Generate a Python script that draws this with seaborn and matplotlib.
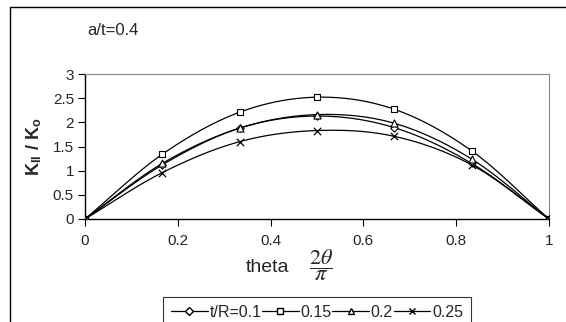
import numpy as np
import pandas as pd
import seaborn as sns
import matplotlib.pyplot as plt
from matplotlib.patches import Rectangle

sns.set_style('white')
plt.rcParams['font.family'] = ['Liberation Sans', 'DejaVu Sans']
plt.rcParams['mathtext.fontset'] = 'stix'

# datos
theta = [0, 1/6, 1/3, 1/2, 2/3, 5/6, 1]
k_01 = [0, 1.12, 1.88, 2.13, 1.89, 1.15, 0]
k_015 = [0, 1.34, 2.21, 2.52, 2.27, 1.41, 0]
k_02 = [0, 1.15, 1.88, 2.16, 1.98, 1.24, 0]
k_025 = [0, 0.96, 1.60, 1.83, 1.71, 1.12, 0]
series = ['t/R=0.1', '0.15', '0.2', '0.25']
marcadores = ['D', 's', '^', 'x']
tamanos = [14, 24, 26, 28]

df = pd.DataFrame({'theta': theta * 4,
                   'k': k_01 + k_015 + k_02 + k_025,
                   'serie': np.repeat(series, len(theta))})


def suavizar(x, y, n=20):
    # curva tipo Excel (Catmull-Rom) solo para el trazo
    x = np.asarray(x, float); y = np.asarray(y, float)
    px = np.concatenate([[2*x[0]-x[1]], x, [2*x[-1]-x[-2]]])
    py = np.concatenate([[2*y[0]-y[1]], y, [2*y[-1]-y[-2]]])
    xs, ys = [], []
    t = np.linspace(0, 1, n)
    for i in range(1, len(px)-2):
        for p, out in ((px, xs), (py, ys)):
            p0, p1, p2, p3 = p[i-1:i+3]
            out.extend(0.5*((2*p1) + (-p0+p2)*t + (2*p0-5*p1+4*p2-p3)*t**2
                            + (-p0+3*p1-3*p2+p3)*t**3))
    return xs, ys


fig = plt.figure(figsize=(5.66, 3.22), dpi=100)
ax = fig.add_axes([85/566, 1-219/322, 464/566, 145/322])

for s, m, sz in zip(series, marcadores, tamanos):
    d = df[df['serie'] == s]
    xs, ys = suavizar(d['theta'], d['k'])
    ax.plot(xs, ys, color='black', lw=0.9)
    if m == 'x':
        sns.scatterplot(data=d, x='theta', y='k', marker=m, s=sz, color='black',
                        linewidth=0.9, ax=ax, legend=False, zorder=3)
    else:
        sns.scatterplot(data=d, x='theta', y='k', marker=m, s=sz, facecolor='white',
                        edgecolor='black', linewidth=0.8, ax=ax, legend=False, zorder=3)

ax.set_xlim(0, 1)
ax.set_ylim(0, 3)
ax.set_xticks([0, 0.2, 0.4, 0.6, 0.8, 1])
ax.set_xticklabels(['0', '0.2', '0.4', '0.6', '0.8', '1'])
ax.set_yticks([0, 0.5, 1, 1.5, 2, 2.5, 3])
ax.set_yticklabels(['0', '0.5', '1', '1.5', '2', '2.5', '3'])
ax.tick_params(axis='both', labelsize=11, length=5, direction='out', color='black',
               bottom=True, left=True)
ax.tick_params(axis='x', pad=6)
ax.tick_params(axis='y', pad=3)
for lado in ['left', 'bottom']:
    ax.spines[lado].set_color('black')
    ax.spines[lado].set_linewidth(1)
for lado in ['top', 'right']:
    ax.spines[lado].set_color('#888888')
    ax.spines[lado].set_linewidth(0.8)

ax.set_xlabel('')
ax.set_ylabel(r'K$_\mathregular{II}$ / K$_\mathregular{o}$', fontsize=13,
              fontweight='bold', labelpad=6)

fig.text(268/566, 1-267/322, 'theta', fontsize=14, ha='center', va='center')
fig.text(321/566, 1-265/322, r'$\dfrac{2\theta}{\pi}$', fontsize=16, ha='center', va='center')
fig.text(87/566, 1-35/322, 'a/t=0.4', fontsize=12)

# borde exterior
fig.patches.append(Rectangle((10/566, -0.1), 1.0, 1.1-7/322, transform=fig.transFigure,
                             fill=False, edgecolor='black', lw=1))

handles = [plt.Line2D([], [], color='black', lw=0.9, marker=m, markersize=4,
                      markerfacecolor='white', markeredgecolor='black')
           for m in marcadores]
leg = fig.legend(handles, series, loc='upper left', bbox_to_anchor=(163/566, 1-297/322),
                 ncol=4, frameon=True, fontsize=11.5, handlelength=2.3, handletextpad=0.1,
                 columnspacing=0.05, borderpad=0.5, borderaxespad=0, fancybox=False,
                 edgecolor='black')
leg.get_frame().set_linewidth(0.8)

fig.savefig('out.png', dpi=100)
